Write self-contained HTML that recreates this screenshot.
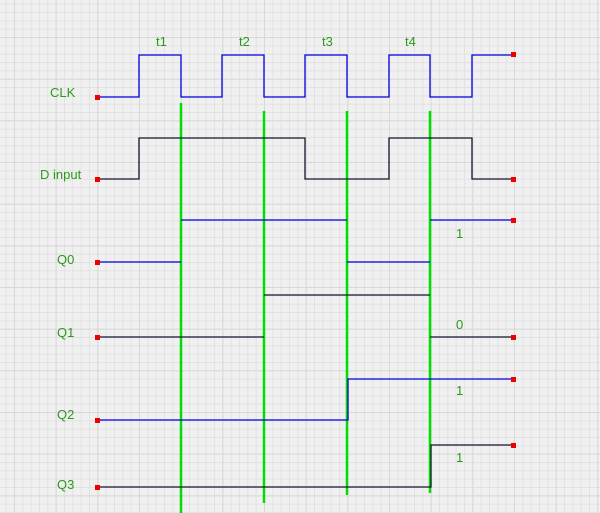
<!DOCTYPE html>
<html><head><meta charset="utf-8"><style>
html,body{margin:0;padding:0;background:#f0f0f0;}
svg{display:block}
text{font-family:"Liberation Sans",sans-serif;font-size:13px;fill:#2a9a1a}
</style></head><body>
<svg width="600" height="513" viewBox="0 0 600 513" xmlns="http://www.w3.org/2000/svg">
<defs>
<pattern id="mn" width="8.333" height="8.333" patternUnits="userSpaceOnUse" x="5.67" y="3.7">
<path d="M0 0.5H8.333M0.5 0V8.333" stroke="#e2e2e2" stroke-width="1" fill="none"/>
</pattern>
<pattern id="mj" width="41.667" height="41.667" patternUnits="userSpaceOnUse" x="14" y="37">
<path d="M0 0.5H41.667M0.5 0V41.667" stroke="#d8d8d8" stroke-width="1" fill="none"/>
</pattern>
</defs>
<rect width="600" height="513" fill="#f0f0f0"/>
<rect width="600" height="513" fill="url(#mn)"/>
<rect width="600" height="513" fill="url(#mj)"/>
<g stroke="#00dd00" stroke-width="2.5">
<line x1="181" y1="103" x2="181" y2="513"/>
<line x1="264" y1="111" x2="264" y2="503"/>
<line x1="347" y1="111" x2="347" y2="495"/>
<line x1="430" y1="111" x2="430" y2="493"/>
</g>
<g fill="none" stroke-width="1.3">
<path stroke="#0000e0" d="M97 97H139V55H181V97H222V55H264V97H305V55H347V97H389V55H430V97H472V55H514"/>
<path stroke="#151530" d="M97 179H139V138H305V179H389V138H472V179H514"/>
<path stroke="#0000e0" d="M97 262H181M181 220H347M347 262H430M430 220H514"/>
<path stroke="#151530" d="M97 337H264M264 295H430M430 337H514"/>
<path stroke="#0000e0" d="M97 420H348V379H514"/>
<path stroke="#151530" d="M97 487H431V445H514"/>
</g>
<g fill="#ee0000">
<rect x="95" y="95" width="5" height="5"/>
<rect x="95" y="177" width="5" height="5"/>
<rect x="95" y="260" width="5" height="5"/>
<rect x="95" y="335" width="5" height="5"/>
<rect x="95" y="418" width="5" height="5"/>
<rect x="95" y="485" width="5" height="5"/>
<rect x="511" y="52" width="5" height="5"/>
<rect x="511" y="177" width="5" height="5"/>
<rect x="511" y="218" width="5" height="5"/>
<rect x="511" y="335" width="5" height="5"/>
<rect x="511" y="377" width="5" height="5"/>
<rect x="511" y="443" width="5" height="5"/>
</g>
<text x="50" y="97">CLK</text>
<text x="40" y="179">D input</text>
<text x="57" y="264">Q0</text>
<text x="57" y="337">Q1</text>
<text x="57" y="419">Q2</text>
<text x="57" y="489">Q3</text>
<text x="156" y="46">t1</text>
<text x="239" y="46">t2</text>
<text x="322" y="46">t3</text>
<text x="405" y="46">t4</text>
<text x="456" y="238">1</text>
<text x="456" y="329">0</text>
<text x="456" y="395">1</text>
<text x="456" y="462">1</text>
</svg>
</body></html>
